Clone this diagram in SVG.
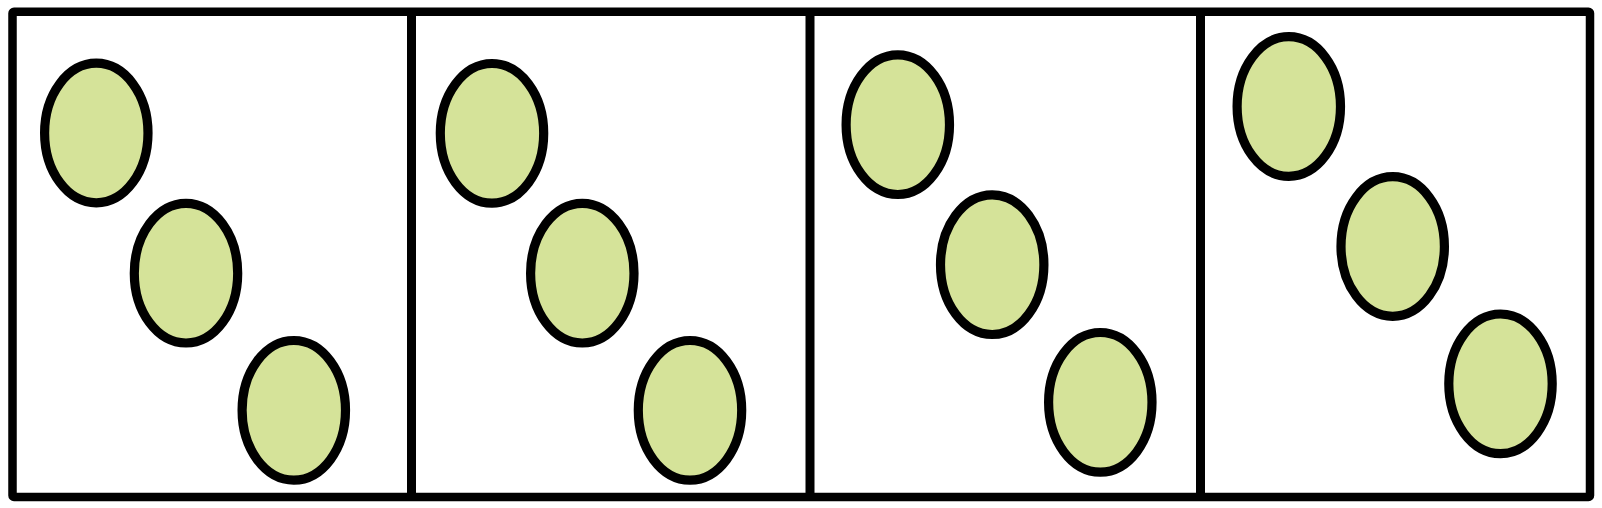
<svg xmlns="http://www.w3.org/2000/svg" width="1602" height="508" viewBox="0 0 1602 508">
<style>
.frame{fill:#ffffff;stroke:#000000;stroke-width:8.5;stroke-linejoin:round}
.div{stroke:#000000;stroke-width:9;fill:none}
.cell{fill:#d5e399;stroke:#000000;stroke-width:9.2}
</style>
<rect width="1602" height="508" fill="#ffffff"/>
<rect class="frame" x="12.5" y="11.8" width="1577.5" height="485.2" rx="1.5"/>
<g id="connectors">
<line class="div" x1="411.5" y1="11.8" x2="411.5" y2="497"/>
<line class="div" x1="810" y1="11.8" x2="810" y2="497"/>
<line class="div" x1="1200.5" y1="11.8" x2="1200.5" y2="497"/>
</g>
<g id="panel1">
<ellipse class="cell" cx="96.3" cy="133" rx="51.7" ry="69.8"/>
<ellipse class="cell" cx="186" cy="273.2" rx="51.7" ry="69.8"/>
<ellipse class="cell" cx="293.8" cy="410.3" rx="51.7" ry="69.8"/>
</g>
<g id="panel2">
<ellipse class="cell" cx="492" cy="133.3" rx="51.7" ry="69.8"/>
<ellipse class="cell" cx="582.3" cy="273.2" rx="51.7" ry="69.8"/>
<ellipse class="cell" cx="690" cy="410.3" rx="51.7" ry="69.8"/>
</g>
<g id="panel3">
<ellipse class="cell" cx="897.8" cy="124.7" rx="51.7" ry="69.8"/>
<ellipse class="cell" cx="992.2" cy="264.7" rx="51.7" ry="69.8"/>
<ellipse class="cell" cx="1100.3" cy="402.3" rx="51.7" ry="69.8"/>
</g>
<g id="panel4">
<ellipse class="cell" cx="1288.8" cy="106.5" rx="51.7" ry="69.8"/>
<ellipse class="cell" cx="1392.7" cy="246.5" rx="51.7" ry="69.8"/>
<ellipse class="cell" cx="1500.5" cy="383.8" rx="51.7" ry="69.8"/>
</g>
</svg>
